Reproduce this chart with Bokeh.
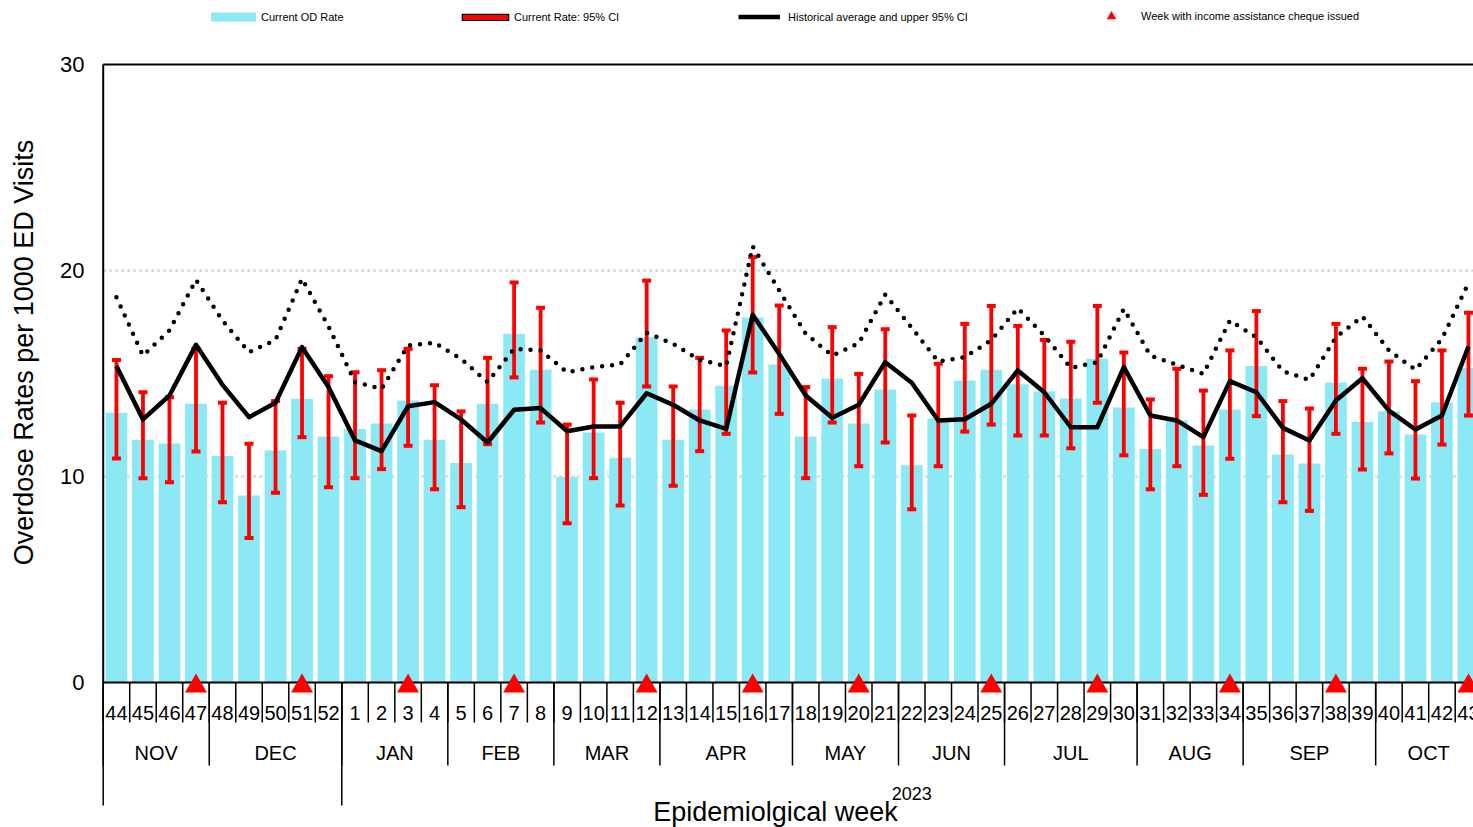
import numpy as np
from bokeh.plotting import figure
from bokeh.models import ColumnDataSource, Range1d, Legend, LegendItem
from bokeh.core.properties import value
from bokeh.embed import file_html
from bokeh.resources import INLINE

# ---------------- data ----------------
weeks = [44, 45, 46, 47, 48, 49, 50, 51, 52,
         1, 2, 3, 4, 5, 6, 7, 8, 9, 10, 11, 12, 13, 14, 15, 16, 17, 18, 19, 20,
         21, 22, 23, 24, 25, 26, 27, 28, 29, 30, 31, 32, 33, 34, 35, 36, 37, 38,
         39, 40, 41, 42, 43]
week_labels = [str(w) for w in weeks]

od_rate = [13.09, 11.78, 11.60, 13.53, 10.99, 9.08, 11.26, 13.77, 11.94,
           12.30, 12.57, 13.69, 11.78, 10.65, 13.53, 16.93, 15.18, 9.97, 12.14,
           10.91, 16.76, 11.78, 13.25, 14.40, 17.72, 15.44, 11.94, 14.74, 12.57,
           14.22, 10.55, 12.82, 14.66, 15.18, 14.48, 14.13, 13.79, 15.71, 13.35,
           11.34, 12.73, 11.50, 13.25, 15.36, 11.07, 10.63, 14.56, 12.65, 13.17,
           12.04, 13.61, 15.27]

ci_high = [15.66, 14.09, 13.85, 16.20, 13.58, 11.59, 13.66, 16.20, 14.87,
           15.06, 15.16, 16.20, 14.43, 13.16, 15.76, 19.42, 18.19, 12.52, 14.71,
           13.58, 19.51, 14.37, 15.76, 17.09, 20.65, 18.30, 14.34, 17.25, 14.98,
           17.15, 12.96, 15.47, 17.41, 18.28, 17.31, 16.63, 16.54, 18.28, 16.02,
           13.74, 15.23, 14.17, 16.12, 18.03, 13.66, 13.30, 17.41, 15.23, 15.58,
           14.63, 16.12, 17.95]

ci_low = [10.87, 9.92, 9.72, 11.21, 8.75, 7.02, 9.21, 11.91, 9.48,
          9.92, 10.36, 11.49, 9.38, 8.51, 11.57, 14.81, 12.62, 7.73, 9.92,
          8.59, 14.37, 9.55, 11.23, 12.07, 15.05, 13.04, 9.92, 12.62, 10.50,
          11.65, 8.41, 10.50, 12.18, 12.52, 11.99, 11.99, 11.37, 13.58, 11.03,
          9.38, 10.50, 9.11, 10.86, 12.93, 8.75, 8.33, 12.07, 10.34, 11.12,
          9.90, 11.55, 12.96]

hist_avg = [15.36, 12.77, 13.93, 16.39, 14.45, 12.88, 13.58, 16.28, 14.34,
            11.75, 11.23, 13.41, 13.61, 12.77, 11.65, 13.24, 13.32, 12.20, 12.43,
            12.43, 14.04, 13.48, 12.72, 12.31, 17.85, 15.95, 13.93, 12.85, 13.48,
            15.55, 14.55, 12.72, 12.78, 13.53, 15.15, 14.09, 12.39, 12.39, 15.31,
            12.96, 12.72, 11.91, 14.63, 14.09, 12.36, 11.75, 13.69, 14.77, 13.20,
            12.28, 12.96, 16.31]

hist_upper = [18.70, 15.87, 17.09, 19.55, 17.57, 16.03, 16.63, 19.60, 17.28,
              14.58, 14.26, 16.36, 16.49, 15.71, 14.58, 16.20, 16.12, 15.06, 15.31,
              15.44, 16.98, 16.44, 15.66, 15.36, 21.17, 19.03, 16.93, 15.87, 16.47,
              18.83, 17.22, 15.58, 15.79, 16.62, 18.17, 16.84, 15.27, 15.55, 18.14,
              15.87, 15.42, 14.98, 17.57, 16.76, 15.11, 14.69, 16.76, 17.77, 16.12,
              15.18, 16.68, 19.40]

cheque_weeks = [47, 51, 3, 7, 12, 16, 20, 25, 29, 34, 38, 43]

months = ["NOV", "DEC", "JAN", "FEB", "MAR", "APR", "MAY", "JUN", "JUL",
          "AUG", "SEP", "OCT"]
month_week_counts = [4, 5, 4, 4, 4, 5, 4, 4, 5, 4, 5, 4]
years = ["2022", "2023"]
year_week_counts = [9, 43]
year_labels_shown = ["", "2023"]

y_ticks = [0, 10, 20, 30]
y_tick_labels = ["0", "10", "20", "30"]
grid_ticks = [10, 20]

# ---------------- layout ----------------
FONT = "Liberation Sans"
CYAN = "#8BE8F5"
RED = "#FF0000"
W, H = 1473, 827
PAGE_X0, PAGE_Y0 = 0, 0            # page offset of the canvas
AX_X, AX_Y = 102.7, 682.0          # page position of (week boundary 0, rate 0)
S = 26.51                          # px per week
PXU = 20.6                         # px per rate unit


def px(xp):   # page x -> data x
    return (xp - AX_X) / S


def py(yp):   # page y -> data y
    return (AX_Y - yp) / PXU


x = np.arange(len(weeks)) + 0.5
src = ColumnDataSource(dict(x=x, week=week_labels, rate=od_rate, lo=ci_low,
                            hi=ci_high, avg=hist_avg, upper=hist_upper))

p = figure(width=W, height=H,
           x_range=Range1d(px(PAGE_X0), px(PAGE_X0 + W)),
           y_range=Range1d(py(PAGE_Y0 + H), py(PAGE_Y0)),
           x_axis_location=None, y_axis_location=None, toolbar_location=None,
           output_backend="svg", min_border=0, outline_line_color=None,
           background_fill_color="white", border_fill_color="white")
p.grid.visible = False

# gridlines (dotted grey) from the y axis to the right
p.ray(x=0, y=grid_ticks, length=0, angle=0, line_color="#D9D9D9",
      line_width=2.5, line_dash="3 3")

bars = p.vbar(x="x", top="rate", width=0.82, source=src, fill_color=CYAN,
              line_color=None)

# axis frame lines
p.segment(x0=[0], y0=[0], x1=[0], y1=[y_ticks[-1]], line_color="black",
          line_width=2)
p.ray(x=0, y=[0, y_ticks[-1]], length=0, angle=0, line_color="black",
      line_width=2)

# y tick labels and title
p.text(x=px(84), y=y_ticks, text=y_tick_labels, text_align="right",
       text_baseline="middle", text_font=value(FONT), text_font_size="22px",
       text_color="black")
p.text(x=[px(23)], y=[py(352)], text=["Overdose Rates per 1000 ED Visits"],
       angle=np.pi / 2, text_align="center", text_baseline="middle",
       text_font=value(FONT), text_font_size="27px", text_color="black")

# CI error bars (zero-width box gives the legend swatch, hidden under the red line)
ci_box = p.vbar(x="x", bottom="lo", top="hi", width=0, source=src,
                fill_color=RED, line_color="black", line_width=1.2)
p.segment(x0="x", y0="lo", x1="x", y1="hi", source=src, line_color=RED,
          line_width=3.8)
p.scatter(x="x", y="lo", source=src, marker="dash", size=9, line_color=RED,
          line_width=4)
p.scatter(x="x", y="hi", source=src, marker="dash", size=9, line_color=RED,
          line_width=4)

hist = p.line(x="x", y="avg", source=src, line_color="black", line_width=4.5,
              line_join="round")
p.line(x="x", y="upper", source=src, line_color="black", line_width=4.5,
       line_dash="0 10", line_cap="round")

tri_x = [x[weeks.index(w)] for w in cheque_weeks]
tri = p.scatter(x=tri_x, y=py(685.7), marker="triangle", size=22,
                fill_color=RED, line_color=None)

# ---------------- hierarchical category axis ----------------
week_bounds = np.arange(len(weeks) + 1)
month_bounds = np.concatenate([[0], np.cumsum(month_week_counts)])
year_bounds = np.concatenate([[0], np.cumsum(year_week_counts)])

p.segment(x0=week_bounds, y0=0, x1=week_bounds, y1=py(722),
          line_color="black", line_width=1.5)
p.segment(x0=month_bounds[:-1], y0=0, x1=month_bounds[:-1], y1=py(765),
          line_color="black", line_width=1.5)
p.segment(x0=year_bounds[:-1], y0=0, x1=year_bounds[:-1], y1=py(805),
          line_color="black", line_width=1.5)

p.text(x="x", y=py(712), text="week", source=src, text_align="center",
       text_baseline="middle", text_font=value(FONT), text_font_size="20px",
       text_color="black")
month_centers = (month_bounds[:-1] + month_bounds[1:]) / 2
p.text(x=month_centers, y=py(752), text=months, text_align="center",
       text_baseline="middle", text_font=value(FONT), text_font_size="20px",
       text_color="black")
year_centers = (year_bounds[:-1] + year_bounds[1:]) / 2
p.text(x=year_centers, y=py(793), text=year_labels_shown, text_align="center",
       text_baseline="middle", text_font=value(FONT), text_font_size="18px",
       text_color="black")
p.text(x=[px(775)], y=[py(811)], text=["Epidemiolgical week"],
       text_align="center", text_baseline="middle", text_font=value(FONT),
       text_font_size="27px", text_color="black")

# ---------------- legends ----------------
def add_legend(renderer, label, left_page, gw, gh, standoff, center_y=16):
    h = max(gh, 13)
    bottom_page = center_y + h / 2
    loc = (left_page - PAGE_X0, (PAGE_Y0 + H) - bottom_page)
    leg = Legend(items=[LegendItem(label=label, renderers=[renderer])],
                 location=loc, orientation="horizontal", padding=0, margin=0,
                 spacing=0, border_line_color=None, background_fill_alpha=0,
                 glyph_width=gw, glyph_height=gh, label_standoff=standoff,
                 label_height=gh, label_text_font=FONT,
                 label_text_font_size="11px", label_text_color="black")
    p.add_layout(leg)


add_legend(bars, "Current OD Rate", 205, 56, 11, 0)
add_legend(ci_box, "Current Rate: 95% CI", 456, 58, 8, 0)
add_legend(hist, "Historical average and upper 95% CI", 738, 42, 11, 8)
add_legend(tri, "Week with income assistance cheque issued", 1099, 24, 24, 18)

open("out.html", "w").write(file_html(p, INLINE))
